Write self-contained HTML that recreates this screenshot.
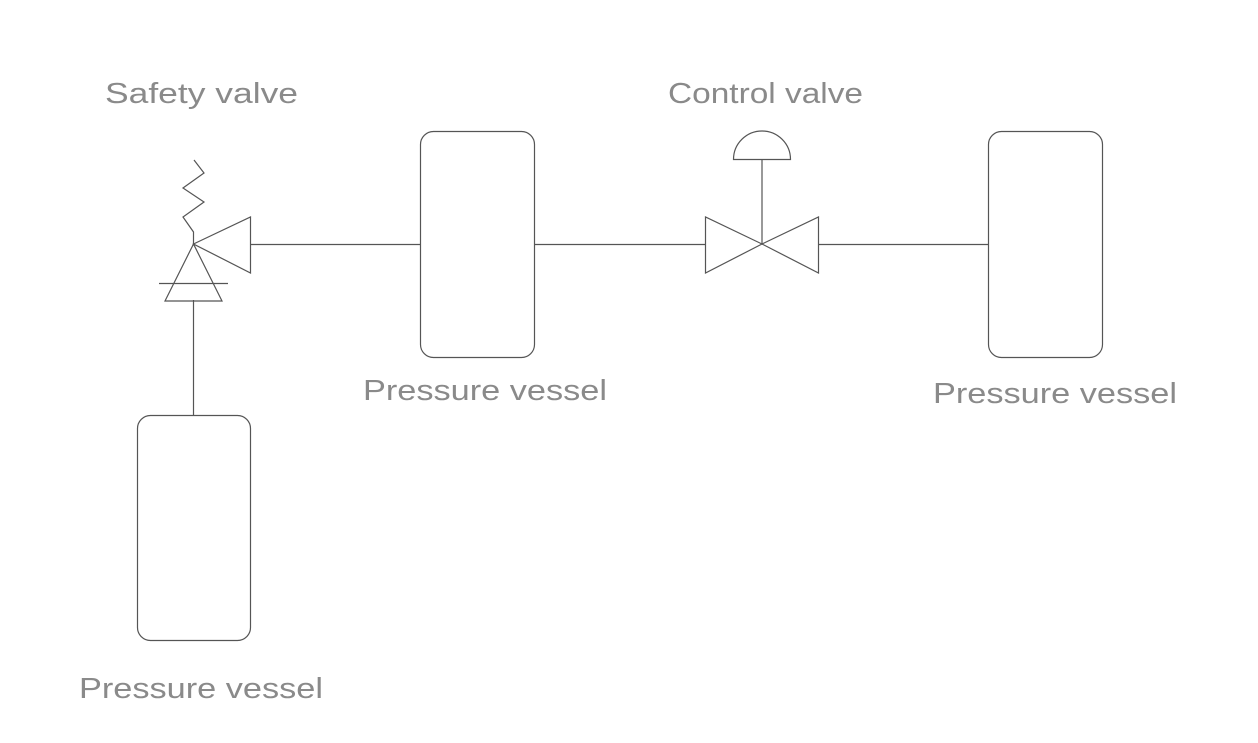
<!DOCTYPE html>
<html><head><style>html,body{margin:0;padding:0;background:#fff;}svg{display:block}</style></head>
<body>
<svg width="1258" height="743" viewBox="0 0 1258 743" xmlns="http://www.w3.org/2000/svg">
<g fill="none" stroke="#555" stroke-width="1.2">
<rect x="420.5" y="131.5" width="114" height="226" rx="13"/>
<rect x="988.5" y="131.5" width="114" height="226" rx="13"/>
<rect x="137.5" y="415.5" width="113" height="225" rx="13"/>
<line x1="250" y1="244.5" x2="420" y2="244.5"/>
<line x1="535" y1="244.5" x2="705" y2="244.5"/>
<line x1="818" y1="244.5" x2="988" y2="244.5"/>
<line x1="193.5" y1="300" x2="193.5" y2="415"/>
<polygon points="193.5,244 250.5,217 250.5,273"/>
<polygon points="193.5,244 165,301 222,301"/>
<line x1="159" y1="283.5" x2="228" y2="283.5"/>
<polyline points="193.5,244 193.5,232 183,217 204,202 183,188 204,173 194,160"/>
<polygon points="705.5,217 705.5,273 762,244"/>
<polygon points="818.5,217 818.5,273 762,244"/>
<line x1="762" y1="244" x2="762" y2="160"/>
<path d="M733.5,159.5 A28.5,28.5 0 0 1 790.5,159.5 Z"/>
</g>
<g fill="#8a8a8a" font-family="Liberation Sans, sans-serif" font-size="29">
<text x="105" y="103" textLength="193" lengthAdjust="spacingAndGlyphs">Safety valve</text>
<text x="668" y="103" textLength="195" lengthAdjust="spacingAndGlyphs">Control valve</text>
<text x="363" y="400" textLength="244" lengthAdjust="spacingAndGlyphs">Pressure vessel</text>
<text x="933" y="403" textLength="244" lengthAdjust="spacingAndGlyphs">Pressure vessel</text>
<text x="79" y="698" textLength="244" lengthAdjust="spacingAndGlyphs">Pressure vessel</text>
</g>
</svg>
</body></html>
